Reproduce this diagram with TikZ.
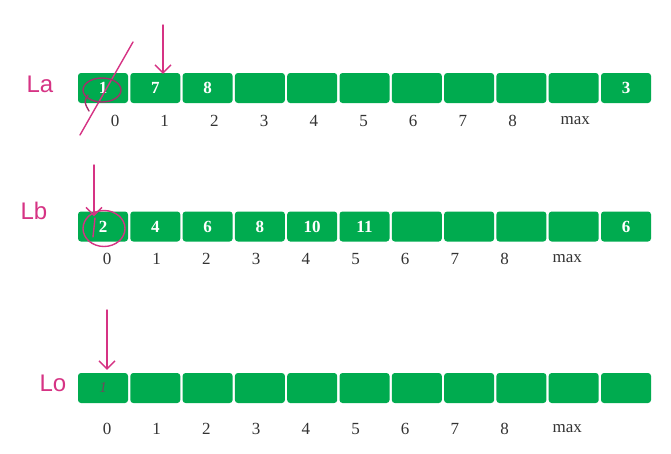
\documentclass[tikz,border=0pt]{standalone}
\usepackage{fontspec}
\setmainfont{Liberation Serif}
\newfontfamily\handfont{Liberation Sans}
\usetikzlibrary{arrows.meta,positioning,calc}
\definecolor{cellgreen}{HTML}{00AB4F}
\definecolor{inkpink}{HTML}{D63384}
\definecolor{inkplum}{HTML}{A3306C}
\definecolor{inkdark}{HTML}{6E4A5C}
\definecolor{idxgrey}{HTML}{333333}
\begin{document}
\begin{tikzpicture}[x=1pt,y=-1pt,
      cell/.style={rectangle,rounded corners=3pt,fill=cellgreen,minimum width=50pt,minimum height=30pt,inner sep=0pt,text=white,font=\fontsize{17}{17}\selectfont\bfseries},
      idx/.style={text=idxgrey,font=\fontsize{17}{17}\selectfont,inner sep=0pt},
      hand/.style={text=inkpink,font=\handfont\fontsize{24}{24}\selectfont,inner sep=0pt},
      pen/.style={inkpink,line width=1.4pt,line cap=round,line join=round},
      penarrow/.style={pen,-{Straight Barb[length=8pt,width=16pt]}}]
    \useasboundingbox (0,0) rectangle (671,453);
    \fill[white] (0,0) rectangle (671,453);
    \foreach \v [count=\i from 0] in {1,7,8,{},{},{},{},{},{},{},3} {
      \node[cell] (a\i) at ({103+52.3*\i},88) {\v};
    }
    \foreach \v [count=\i from 0] in {2,4,6,8,10,11,{},{},{},{},6} {
      \node[cell] (b\i) at ({103+52.3*\i},226.5) {\v};
    }
    \foreach \i in {0,...,10} {
      \node[cell] (c\i) at ({103+52.3*\i},388) {};
    }
    \foreach \r/\x/\y in {a/115/121,b/107/259,c/107/429} {
      \foreach \t/\k in {0/0,1/1,2/2,3/3,4/4,5/5,6/6,7/7,8/8,max/9.26} {
        \node[idx] (i\r\k) at ({\x+49.7*\k},\y) {\t};
      }
    }
    \node[hand] (la) at (40,84) {La};
    \node[hand] (lb) at (34,211) {Lb};
    \node[hand] (lo) at (53,383) {Lo};
    \node[text=inkdark,font=\fontsize{15}{15}\selectfont\itshape,inner sep=0pt] (cmark) at (c0) {1};
    \coordinate (ptra) at (163,25);
    \coordinate (ptrb) at (94,165);
    \coordinate (ptrc) at (107,310);
    \draw[penarrow] (ptra) -- ($(ptra |- a1.north)+(0,1)$);
    \draw[penarrow] (ptrb) -- ($(ptrb |- b0.north)+(0,5)$);
    \draw[penarrow] (ptrc) -- ($(ptrc |- c0.north)+(0,-3)$);
    \draw[pen] (133,42) -- (80,135);
    \draw[pen,inkplum] ($(a0)+(-1,2)$) ellipse (19 and 12);
    \draw[pen,inkplum] (88,95) .. controls (84,102) .. (89,111);
    \draw[pen] ($(b0)+(1,2)$) ellipse (21 and 18);
    \draw[pen] (95,218) -- (93,237);
\end{tikzpicture}
\end{document}
